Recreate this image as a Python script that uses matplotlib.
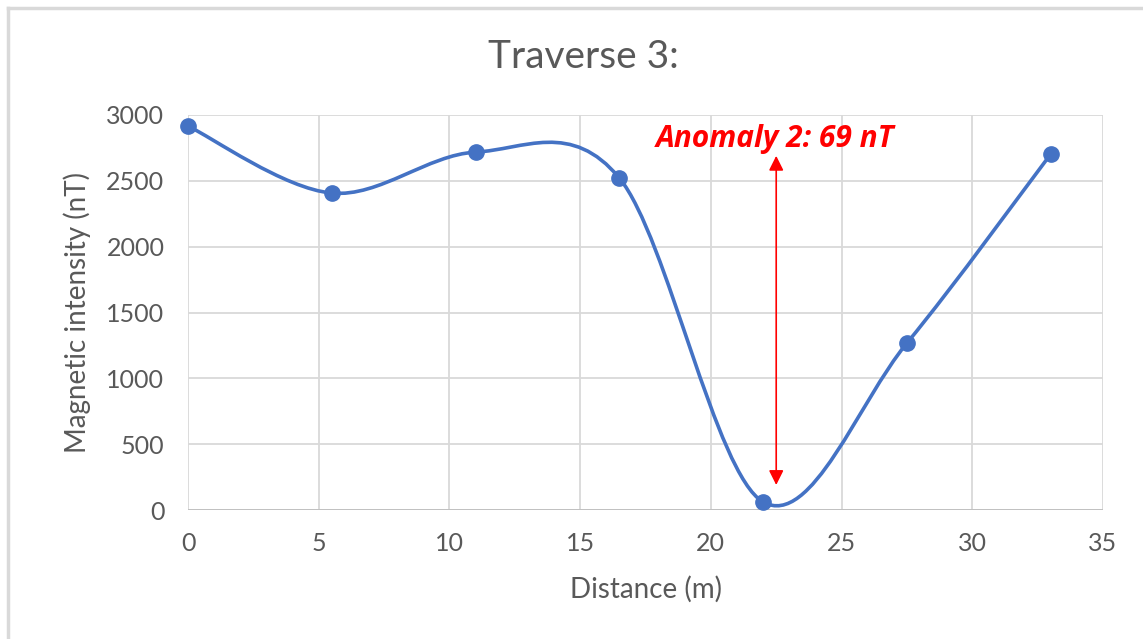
import numpy as np
import matplotlib
matplotlib.use("Agg")
import matplotlib.pyplot as plt
from matplotlib.path import Path
from matplotlib.patches import PathPatch
from matplotlib.lines import Line2D

# Survey readings along traverse 3
distance = [0, 5.5, 11, 16.5, 22, 27.5, 33]
intensity = [2916, 2407, 2718, 2521, 61, 1268, 2703]

title = "Traverse 3:"
x_label = "Distance (m)"
y_label = "Magnetic intensity (nT)"
anomaly_text = "Anomaly 2: 69 nT"
arrow_x = 22.5
arrow_top = 2690
arrow_bottom = 190

x_ticks = [0, 5, 10, 15, 20, 25, 30, 35]
y_ticks = [0, 500, 1000, 1500, 2000, 2500, 3000]

BLUE = "#4472C4"
GRID = "#d9d9d9"
TXT = "#595959"
FONT = ["Lato", "DejaVu Sans"]

plt.rcParams["font.family"] = FONT

fig = plt.figure(figsize=(11.43, 6.39), dpi=100)
W, H = 1143, 639
ax = fig.add_axes([188 / W, 1 - 510 / H, (1103 - 188) / W, (510 - 115) / H])

ax.set_xlim(0, 35)
ax.set_ylim(0, 3000)
ax.set_xticks(x_ticks)
ax.set_yticks(y_ticks)
ax.set_xticklabels([str(t) for t in x_ticks])
ax.set_yticklabels([str(t) for t in y_ticks])
ax.tick_params(length=0, labelsize=18, colors=TXT)
ax.tick_params(axis="y", pad=17)
ax.tick_params(axis="x", pad=16)
ax.grid(True, color=GRID, linewidth=1.3)
ax.set_axisbelow(True)
for s in ax.spines.values():
    s.set_visible(False)
ax.axhline(0, color="#bfbfbf", linewidth=1.3, zorder=1)

# Smoothed line through the readings (cardinal Bezier, tension 1/6)
pts = np.column_stack([distance, intensity]).astype(float)
ext = np.vstack([pts[0], pts, pts[-1]])
verts = [tuple(pts[0])]
codes = [Path.MOVETO]
for i in range(len(pts) - 1):
    p0, p1, p2, p3 = ext[i], ext[i + 1], ext[i + 2], ext[i + 3]
    c1 = p1 + (p2 - p0) / 6.0
    c2 = p2 - (p3 - p1) / 6.0
    verts += [tuple(c1), tuple(c2), tuple(p2)]
    codes += [Path.CURVE4] * 3
ax.add_patch(PathPatch(Path(verts, codes), facecolor="none", edgecolor=BLUE,
                       linewidth=2.6, capstyle="round", zorder=3))
ax.plot(distance, intensity, linestyle="none", marker="o", markersize=11,
        color=BLUE, zorder=4, clip_on=False)

# Anomaly amplitude marker
ax.annotate("", xy=(arrow_x, arrow_top), xytext=(arrow_x, arrow_bottom),
            arrowprops=dict(arrowstyle="<|-|>", color="red", lw=1.2,
                            mutation_scale=22, shrinkA=0, shrinkB=0), zorder=5)
ax.text(arrow_x - 0.05, 2820, anomaly_text, color="red", fontsize=21.5,
        fontweight="bold", fontstyle="italic", ha="center", va="center",
        family=["Open Sans", "DejaVu Sans"], zorder=6)

ax.set_xlabel(x_label, fontsize=20, color=TXT, labelpad=15)
ax.set_ylabel(y_label, fontsize=20, color=TXT, labelpad=11)
fig.text(583 / W, 1 - 57 / H, title, fontsize=28, color=TXT,
         ha="center", va="center")

# Chart frame
fig.add_artist(Line2D([8 / W, 1], [1 - 8 / H, 1 - 8 / H], color=GRID, lw=2.5))
fig.add_artist(Line2D([8 / W, 8 / W], [0, 1 - 8 / H], color=GRID, lw=2.5))

fig.savefig("out.png", dpi=100, facecolor="white")
